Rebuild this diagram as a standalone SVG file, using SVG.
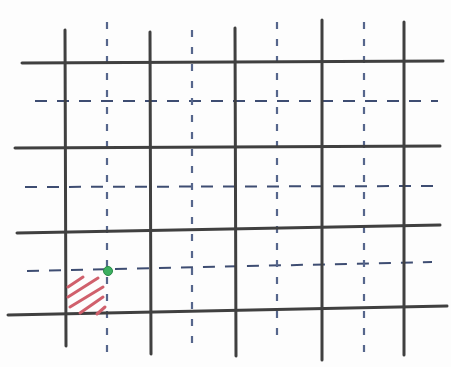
<svg xmlns="http://www.w3.org/2000/svg" width="451" height="367" viewBox="0 0 451 367">
<style>
.solid{stroke:#404040;stroke-width:3;stroke-linecap:round;fill:none}
.dashh{stroke:#3e4d72;stroke-width:2;stroke-dasharray:12 10;fill:none}
.dashv{stroke:#56668c;stroke-width:2.2;stroke-dasharray:7 10;fill:none}
.hatch{stroke:#d0606c;stroke-width:3;stroke-linecap:round;fill:none}
</style>
<rect width="451" height="367" fill="#fdfdfd"/>
<g id="dashed-lines">
<line class="dashh" x1="35" y1="101" x2="438" y2="101"/>
<line class="dashh" x1="25" y1="187" x2="435" y2="186"/>
<line class="dashh" x1="27" y1="271" x2="432" y2="262"/>
<line class="dashv" x1="107" y1="22" x2="107" y2="356"/>
<line class="dashv" x1="192" y1="30" x2="192" y2="346"/>
<line class="dashv" x1="277" y1="22" x2="277" y2="342"/>
<line class="dashv" x1="364" y1="22" x2="364" y2="360"/>
</g>
<g id="solid-lines">
<line class="solid" x1="65" y1="30" x2="66" y2="346"/>
<line class="solid" x1="150" y1="32" x2="151" y2="354"/>
<line class="solid" x1="235" y1="28" x2="236" y2="356"/>
<line class="solid" x1="322" y1="20" x2="322" y2="360"/>
<line class="solid" x1="404" y1="22" x2="404" y2="355"/>
<line class="solid" x1="22" y1="63" x2="443" y2="61"/>
<line class="solid" x1="15" y1="148" x2="440" y2="146"/>
<line class="solid" x1="17" y1="233" x2="440" y2="225"/>
<line class="solid" x1="8" y1="315" x2="447" y2="306"/>
</g>
<g id="hatched-cell">
<line class="hatch" x1="68" y1="287" x2="83" y2="277"/>
<line class="hatch" x1="68" y1="297" x2="98" y2="278"/>
<line class="hatch" x1="70" y1="307" x2="103" y2="287"/>
<line class="hatch" x1="80" y1="313" x2="103" y2="297"/>
<line class="hatch" x1="97" y1="314" x2="105" y2="307"/>
</g>
<g id="point">
<circle cx="108" cy="271" r="4.5" fill="#3cb060" stroke="#2a8a48" stroke-width="1"/>
</g>
</svg>
